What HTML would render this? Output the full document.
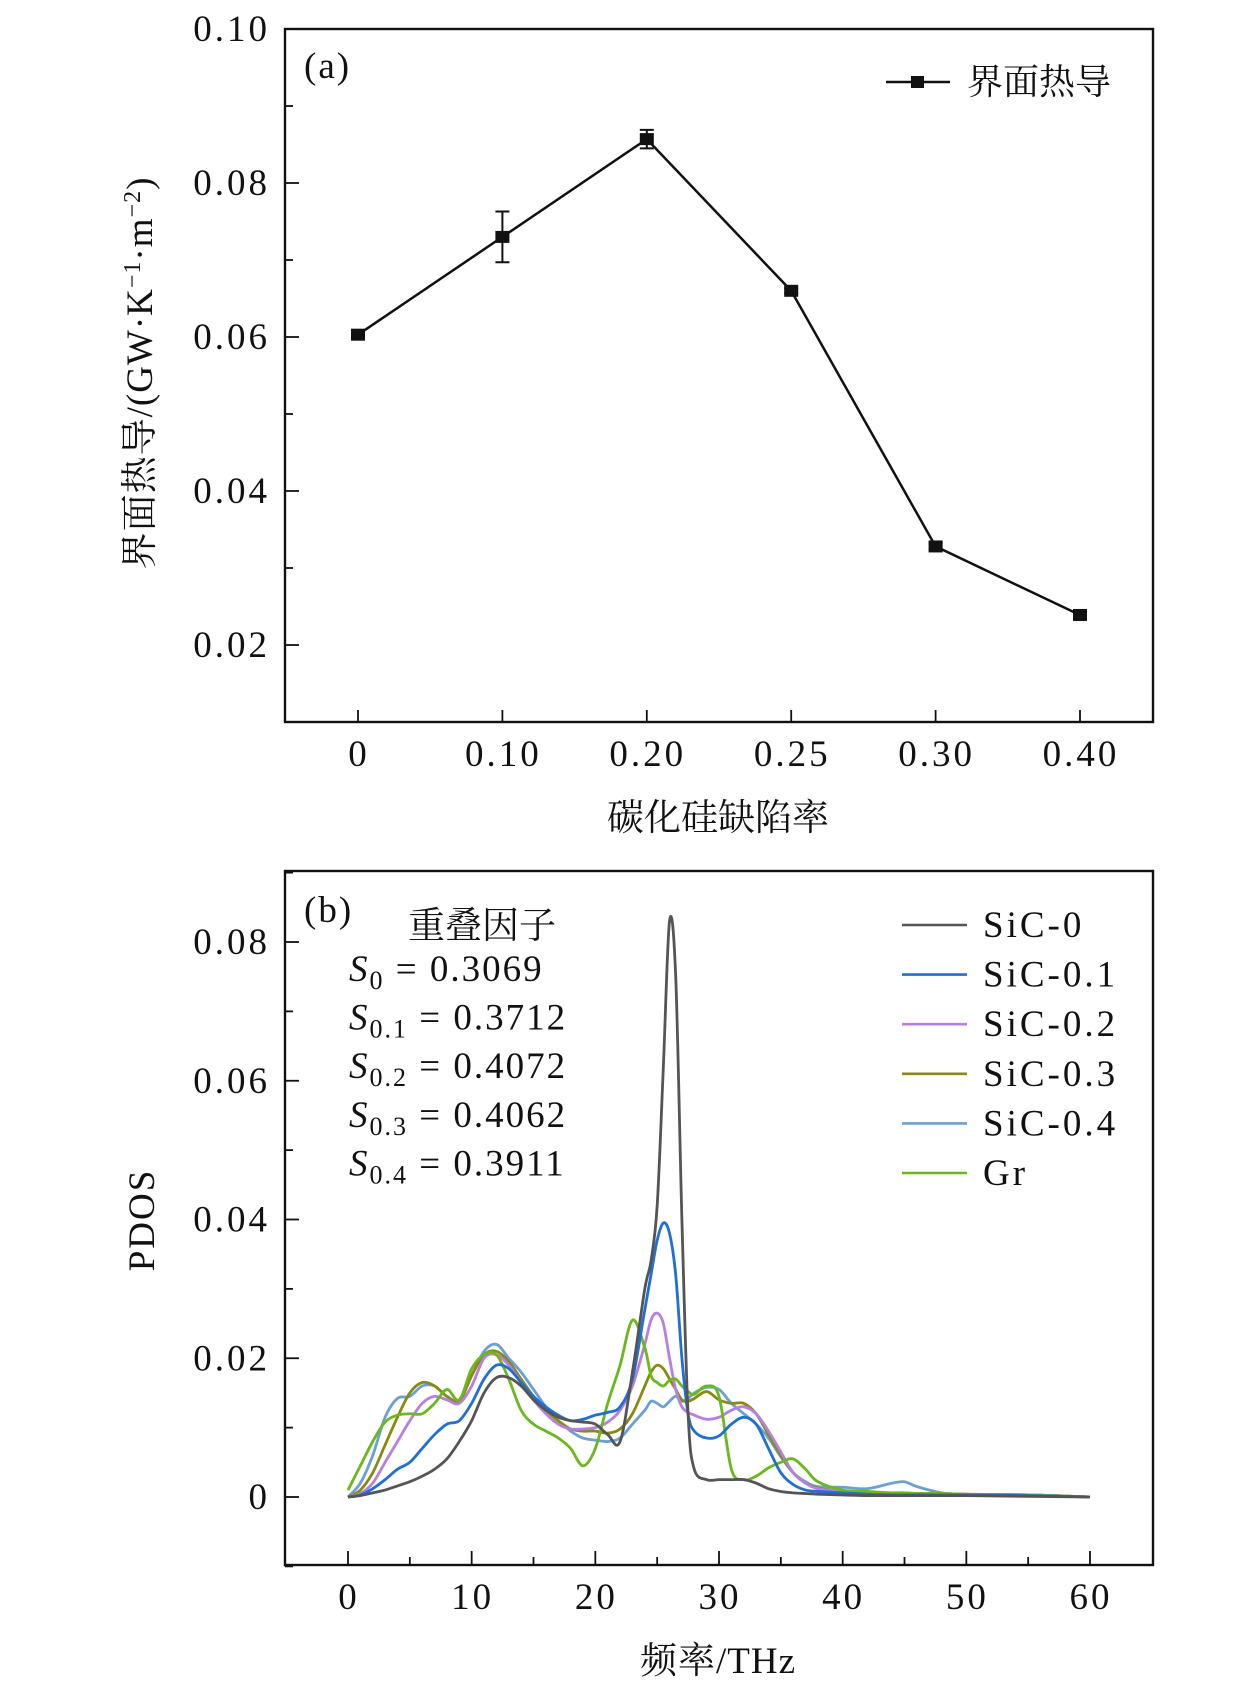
<!DOCTYPE html>
<html><head><meta charset="utf-8"><style>
html,body{margin:0;padding:0;background:#fff}
svg{display:block}
text{font-family:"Liberation Serif","Noto Serif CJK SC","Noto Sans CJK SC",serif;fill:#111}
</style></head><body>
<svg id="chart" width="1260" height="1693" viewBox="0 0 1260 1693" xmlns="http://www.w3.org/2000/svg">
<g id="pa"></g>
<g id="pb"></g>
</svg>
<script>
// ---------- Panel (a) data ----------
const catLabels = ["0","0.10","0.20","0.25","0.30","0.40"];
const conductance = [0.0603,0.0730,0.0857,0.0660,0.0328,0.0239];
const conductanceErr = [0.0004,0.0033,0.0012,0.0003,0.0004,0.0004];
const aYTicks = [0.02,0.04,0.06,0.08,0.10];
const aYTickLabels = ["0.02","0.04","0.06","0.08","0.10"];

// ---------- Panel (b) data ----------
const freq = [0,1,2,3,4,5,6,7,8,9,10,11,12,13,14,15,16,17,18,19,20,21,22,23,24,24.5,25,25.5,26,26.5,27,27.5,28,29,30,31,32,33,34,35,36,37,38,40,42,44,45,46,48,50,55,60];
const sic0 = [0,0.0002,0.0006,0.001,0.0016,0.0022,0.003,0.004,0.0055,0.008,0.011,0.015,0.0172,0.0172,0.016,0.014,0.0125,0.0115,0.011,0.0108,0.0105,0.009,0.008,0.018,0.030,0.034,0.042,0.062,0.083,0.075,0.040,0.012,0.004,0.0025,0.0025,0.0025,0.0025,0.002,0.0012,0.0008,0.0006,0.0005,0.0004,0.0003,0.0002,0.0002,0.0002,0.0002,0.0002,0.0002,0.0001,0];
const sic01 = [0,0.0003,0.0012,0.0025,0.004,0.005,0.007,0.009,0.0105,0.011,0.0135,0.017,0.019,0.0185,0.0165,0.0145,0.013,0.0118,0.011,0.0112,0.0118,0.0122,0.013,0.017,0.027,0.032,0.037,0.0395,0.038,0.032,0.020,0.012,0.0095,0.0085,0.0088,0.0105,0.0115,0.0105,0.007,0.0035,0.0018,0.001,0.0008,0.0006,0.0004,0.0003,0.0003,0.0003,0.0003,0.0003,0.0002,0];
const sic02 = [0,0.0005,0.002,0.005,0.008,0.011,0.0135,0.0145,0.014,0.0135,0.016,0.020,0.0205,0.019,0.0165,0.014,0.012,0.0105,0.0098,0.0098,0.010,0.0108,0.0125,0.016,0.022,0.0255,0.0265,0.025,0.020,0.0155,0.013,0.0122,0.0118,0.0112,0.0115,0.0125,0.013,0.012,0.0095,0.0065,0.0035,0.002,0.0012,0.0008,0.0006,0.0005,0.0005,0.0005,0.0004,0.0004,0.0003,0];
const sic03 = [0,0.001,0.0035,0.0075,0.0115,0.015,0.0165,0.016,0.0145,0.0138,0.0175,0.0205,0.021,0.0195,0.017,0.0145,0.0125,0.011,0.0098,0.0095,0.0095,0.0092,0.0098,0.012,0.016,0.018,0.019,0.0185,0.017,0.0155,0.014,0.0138,0.0142,0.0152,0.014,0.0135,0.0135,0.012,0.009,0.006,0.0035,0.002,0.0013,0.0008,0.0006,0.0006,0.0006,0.0005,0.0005,0.0004,0.0003,0];
const sic04 = [0,0.002,0.006,0.0115,0.0142,0.0145,0.016,0.016,0.0145,0.014,0.0175,0.021,0.022,0.020,0.018,0.0155,0.013,0.011,0.0095,0.0085,0.0082,0.008,0.0085,0.0105,0.0125,0.0138,0.0135,0.013,0.0138,0.0145,0.0138,0.0142,0.015,0.0158,0.0155,0.0135,0.012,0.0105,0.0085,0.0058,0.0035,0.0022,0.0015,0.0014,0.0012,0.002,0.0022,0.0015,0.0006,0.0004,0.0003,0];
const grph = [0.001,0.0045,0.008,0.0108,0.0118,0.012,0.012,0.0135,0.0155,0.014,0.0185,0.0205,0.0205,0.017,0.0125,0.0105,0.0095,0.0085,0.007,0.0045,0.007,0.0135,0.019,0.0255,0.0215,0.0175,0.0165,0.016,0.0168,0.017,0.016,0.0152,0.0148,0.016,0.0145,0.004,0.0025,0.003,0.0042,0.005,0.0055,0.004,0.0022,0.001,0.0008,0.0006,0.0006,0.0005,0.0005,0.0004,0.0003,0];
const seriesNames = ["SiC-0","SiC-0.1","SiC-0.2","SiC-0.3","SiC-0.4","Gr"];
const bXTicks = [0,10,20,30,40,50,60];
const bXTickLabels = ["0","10","20","30","40","50","60"];
const bYTicks = [0,0.02,0.04,0.06,0.08];
const bYTickLabels = ["0","0.02","0.04","0.06","0.08"];
const overlapLabels = ["0","0.1","0.2","0.3","0.4"];
const overlapValues = ["0.3069","0.3712","0.4072","0.4062","0.3911"];

const NS="http://www.w3.org/2000/svg";
function mk(parent,tag,attrs,txt){const e=document.createElementNS(NS,tag);for(const k in attrs)e.setAttribute(k,attrs[k]);if(txt!==undefined)e.textContent=txt;parent.appendChild(e);return e;}
const TF=37, LS=3;

// ---------- Panel (a) ----------
const pa=document.getElementById('pa');
const aL=285,aR=1153,aT=29,aB=722;
const aX=i=>358+i*(1080-358)/5;
const aY=v=>722-(v-0.01)/(0.10-0.01)*(722-29);
let f=mk(pa,'rect',{x:aL,y:aT,width:aR-aL,height:aB-aT,fill:'none',stroke:'#111','stroke-width':2.4});

for(let v=0.02;v<0.1001;v+=0.01){const y=aY(v);const major=Math.round(v*100)%2===0;
 const t=mk(pa,'line',{x1:aL,x2:aL+(major?14:8),y1:y,y2:y,stroke:'#111','stroke-width':1.8});
 }
aYTicks.forEach((v,i)=>{const t=mk(pa,'text',{x:270,y:aY(v)+12,'text-anchor':'end','font-size':TF,'letter-spacing':LS},aYTickLabels[i]);
 });
catLabels.forEach((c,i)=>{const t=mk(pa,'line',{x1:aX(i),x2:aX(i),y1:aB,y2:aB-12,stroke:'#111','stroke-width':1.8});
 
 const l=mk(pa,'text',{x:aX(i)+1,y:766,'text-anchor':'middle','font-size':TF,'letter-spacing':LS},c);
 });
let pts=conductance.map((v,i)=>aX(i)+','+aY(v)).join(' ');
let pl=mk(pa,'polyline',{points:pts,fill:'none',stroke:'#111','stroke-width':2.5});

conductance.forEach((v,i)=>{const x=aX(i);
 const e=mk(pa,'path',{d:`M${x},${aY(v-conductanceErr[i])}V${aY(v+conductanceErr[i])}M${x-7},${aY(v-conductanceErr[i])}h14M${x-7},${aY(v+conductanceErr[i])}h14`,stroke:'#111','stroke-width':2,fill:'none'});
 
 const m=mk(pa,'rect',{x:x-7,y:aY(v)-6,width:14,height:12,fill:'#111'});
 });
let t;
t=mk(pa,'text',{x:304,y:78,'font-size':TF,'letter-spacing':2},'(a)');
t=mk(pa,'line',{x1:886,x2:950,y1:82,y2:82,stroke:'#111','stroke-width':2.5});
t=mk(pa,'rect',{x:911,y:76,width:13,height:12,fill:'#111'});
t=mk(pa,'text',{x:967,y:94,'font-size':36},'界面热导');
t=mk(pa,'text',{x:718,y:830,'text-anchor':'middle','font-size':37},'碳化硅缺陷率');
t=mk(pa,'text',{x:0,y:0,'text-anchor':'middle','font-size':37,'letter-spacing':1,transform:'translate(152,373) rotate(-90)'});

t.innerHTML='界面热导/(GW·K<tspan dy="-12" font-size="24">−1</tspan><tspan dy="12">·m</tspan><tspan dy="-12" font-size="24">−2</tspan><tspan dy="12">)</tspan>';

// ---------- Panel (b) ----------
const pb=document.getElementById('pb');
const bL=285,bR=1153,bT=871,bB=1565;
const bX=v=>348+v*(1090-348)/60;
const bY=v=>1497-v*(1497-942)/0.08;
f=mk(pb,'rect',{x:bL,y:bT,width:bR-bL,height:bB-bT,fill:'none',stroke:'#111','stroke-width':2.4});

for(let v=0;v<=60;v+=5){const major=v%10===0;const tk=mk(pb,'line',{x1:bX(v),x2:bX(v),y1:bB,y2:bB-(major?14:8),stroke:'#111','stroke-width':1.8});
 }
bXTicks.forEach((v,i)=>{const l=mk(pb,'text',{x:bX(v)+1,y:1609,'text-anchor':'middle','font-size':TF,'letter-spacing':LS},bXTickLabels[i]);
 });
for(let k=-1;k<=9;k++){const v=k/100;const major=k%2===0&&k>=0;const tk=mk(pb,'line',{x1:bL,x2:bL+(major?14:8),y1:bY(v),y2:bY(v),stroke:'#111','stroke-width':1.8});
 }
bYTicks.forEach((v,i)=>{const l=mk(pb,'text',{x:270,y:bY(v)+12,'text-anchor':'end','font-size':TF,'letter-spacing':LS},bYTickLabels[i]);
 });
function smooth(xs,ys){let d=`M${bX(xs[0])},${bY(ys[0])}`;
 for(let i=0;i<xs.length-1;i++){const p0=[bX(xs[Math.max(0,i-1)]),bY(ys[Math.max(0,i-1)])],p1=[bX(xs[i]),bY(ys[i])],p2=[bX(xs[i+1]),bY(ys[i+1])],p3=[bX(xs[Math.min(xs.length-1,i+2)]),bY(ys[Math.min(xs.length-1,i+2)])];
  const c1=[p1[0]+(p2[0]-p0[0])/6,p1[1]+(p2[1]-p0[1])/6],c2=[p2[0]-(p3[0]-p1[0])/6,p2[1]-(p3[1]-p1[1])/6];
  d+=`C${c1[0]},${c1[1]} ${c2[0]},${c2[1]} ${p2[0]},${p2[1]}`;}
 return d;}
const allSeries=[sic0,sic01,sic02,sic03,sic04,grph];
const colors=['#555555','#1f6fd6','#b67fe0','#8a8a12','#6aa0d2','#6ab81c'];
const order=[4,3,2,5,1,0];
order.forEach(s=>{const p=mk(pb,'path',{d:smooth(freq,allSeries[s]),fill:'none',stroke:colors[s],'stroke-width':2.8,'stroke-linejoin':'round'});
 });
seriesNames.forEach((n,i)=>{const y=925+i*49.6;
 const l=mk(pb,'line',{x1:902,x2:967,y1:y,y2:y,stroke:colors[i],'stroke-width':2.6});
 
 const tx=mk(pb,'text',{x:983,y:y+12,'font-size':TF,'letter-spacing':LS},n);
 });
t=mk(pb,'text',{x:304,y:922,'font-size':TF,'letter-spacing':2},'(b)');
t=mk(pb,'text',{x:408,y:938,'font-size':37},'重叠因子');
overlapLabels.forEach((s,i)=>{const y=981+i*48.6;
 const tx=mk(pb,'text',{x:349,y:y,'font-size':TF,'letter-spacing':2});
 
 tx.innerHTML=`<tspan font-style="italic">S</tspan><tspan font-size="26" dy="8">${s}</tspan><tspan dy="-8"> = ${overlapValues[i]}</tspan>`;});
t=mk(pb,'text',{x:0,y:0,'text-anchor':'middle','font-size':37,'letter-spacing':2,transform:'translate(154,1220) rotate(-90)'},'PDOS');

t=mk(pb,'text',{x:718,y:1673,'text-anchor':'middle','font-size':37,'letter-spacing':1},'频率/THz');
</script>
</body></html>
